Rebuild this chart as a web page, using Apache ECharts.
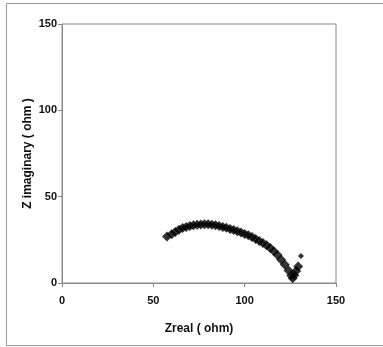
<!DOCTYPE html>
<html>
<head>
<meta charset="utf-8">
<script src="https://cdn.jsdelivr.net/npm/echarts@6/dist/echarts.min.js"></script>
<style>
  html, body { margin: 0; padding: 0; background: #fff; }
  #chart { width: 383px; height: 347px; }
</style>
</head>
<body>
<div id="chart"></div>
<script>
// Impedance spectrum: real part vs imaginary part (ohm)
const zReal = [57.5, 60, 62, 64, 66, 68, 70, 72, 74, 76, 78, 80, 82, 84, 86, 88, 90, 92, 94, 96,
  98, 100, 102, 104, 106, 108, 110, 112, 114, 116, 118, 120, 122, 124, 125.5, 126.3, 127.2, 128.2, 129.3, 130.8];
const zImag = [27, 28.3, 29.5, 30.8, 31.8, 32.5, 33, 33.4, 33.7, 33.9, 34, 34, 33.8, 33.5, 33, 32.5, 32, 31.3, 30.7, 30,
  29.2, 28.4, 27.6, 26.6, 25.5, 24.3, 23.1, 21.8, 20.2, 18.4, 16.2, 13.5, 10.5, 7.3, 4.3, 2.8, 4.5, 7, 9.5, 15.6];
const xTicks = [0, 50, 100, 150];
const yTicks = [0, 50, 100, 150];

// the last reading sits apart from the arc and is drawn as a smaller marker
const points = zReal.map((x, i) => (i === zReal.length - 1
  ? { value: [x, zImag[i]], symbolSize: 6 }
  : [x, zImag[i]]));

const chart = echarts.init(document.getElementById('chart'), null, { renderer: 'canvas' });
const font = '"Liberation Sans", Arial, sans-serif';
const axisGray = '#8a8a8a';

chart.setOption({
  animation: false,
  backgroundColor: '#fff',
  graphic: [
    { type: 'line', shape: { x1: 6.5, y1: 3.5, x2: 383, y2: 3.5 }, style: { stroke: '#999', lineWidth: 1 } },
    { type: 'line', shape: { x1: 6.5, y1: 3.5, x2: 6.5, y2: 345.5 }, style: { stroke: '#999', lineWidth: 1 } },
    { type: 'line', shape: { x1: 6.5, y1: 345.5, x2: 383, y2: 345.5 }, style: { stroke: '#999', lineWidth: 1 } }
  ],
  grid: {
    left: 62, top: 24, width: 274, height: 259,
    show: true, borderColor: axisGray, borderWidth: 1, backgroundColor: '#fff'
  },
  xAxis: {
    type: 'value', min: xTicks[0], max: xTicks[xTicks.length - 1], interval: 50,
    name: 'Zreal ( ohm)', nameLocation: 'middle', nameGap: 40, nameMoveOverlap: false,
    nameTextStyle: { fontFamily: font, fontWeight: 'bold', fontSize: 12, color: '#111' },
    axisLine: { show: true, lineStyle: { color: axisGray } },
    axisTick: { show: true, length: 4, lineStyle: { color: axisGray } },
    axisLabel: { fontFamily: font, fontWeight: 'bold', fontSize: 11, color: '#111', margin: 12 },
    splitLine: { show: false }
  },
  yAxis: {
    type: 'value', min: yTicks[0], max: yTicks[yTicks.length - 1], interval: 50,
    name: 'Z imaginary ( ohm )', nameLocation: 'middle', nameGap: 28, nameMoveOverlap: false,
    nameTextStyle: { fontFamily: font, fontWeight: 'bold', fontSize: 12, color: '#111' },
    axisLine: { show: true, lineStyle: { color: axisGray } },
    axisTick: { show: true, length: 4, lineStyle: { color: axisGray } },
    axisLabel: { fontFamily: font, fontWeight: 'bold', fontSize: 11, color: '#111', margin: 5 },
    splitLine: { show: false }
  },
  series: [{
    type: 'scatter',
    data: points,
    symbol: 'diamond',
    symbolSize: 10,
    itemStyle: { color: '#000' }
  }]
});
</script>
</body>
</html>
